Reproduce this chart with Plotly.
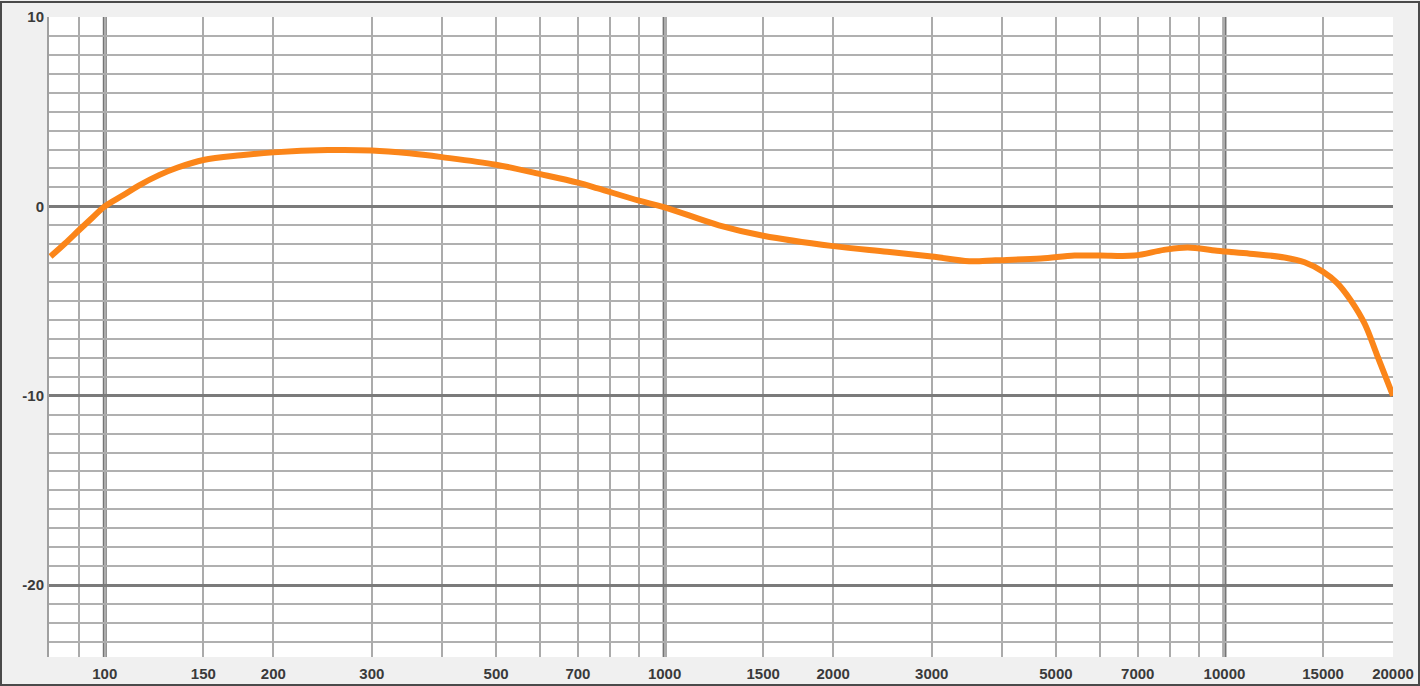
import math
import plotly.graph_objects as go

# ---- data ----
freq_hz = [80, 85, 90, 95, 100, 108, 115, 125, 135, 150, 175, 200, 250, 300, 350,
           400, 500, 600, 700, 760, 900, 1000, 1250, 1500, 2000, 2500, 3000, 3500,
           3900, 4700, 5400, 6000, 6900, 7800, 8600, 9700, 11100, 12800, 13900,
           15000, 15900, 16800, 17800, 18700, 20000]
level_db = [-2.65, -1.95, -1.25, -0.6, 0.0, 0.6, 1.1, 1.65, 2.05, 2.45, 2.7, 2.85, 2.97, 2.95, 2.8,
            2.6, 2.2, 1.7, 1.25, 0.95, 0.3, -0.05, -1.0, -1.55, -2.1, -2.4, -2.65, -2.9,
            -2.85, -2.75, -2.6, -2.6, -2.6, -2.3, -2.17, -2.35, -2.5, -2.7, -2.95,
            -3.45, -4.05, -4.95, -6.2, -7.8, -10.0]

x_tick_vals = [100, 150, 200, 300, 500, 700, 1000, 1500, 2000, 3000, 5000, 7000, 10000, 15000, 20000]
x_tick_text = [str(v) for v in x_tick_vals]
x_minor_vals = [90, 400, 600, 800, 900, 4000, 6000, 8000, 9000]
x_decades = [100, 1000, 10000]
y_tick_vals = [-20, -10, 0, 10]
y_tick_text = ["-20", "-10", "0", "10"]

x_min, x_max = 79.5, 20000
y_min, y_max = -23.8, 10

W, H = 1420, 686
ml, mr, mt, mb = 49, 27, 17, 29

fig = go.Figure()
fig.add_trace(go.Scatter(
    x=freq_hz, y=level_db, mode="lines",
    line=dict(color="#fb8519", width=6, shape="spline", smoothing=1.0),
    hoverinfo="x+y", showlegend=False,
))

shapes = []
for d in x_decades:
    shapes.append(dict(type="line", xref="x", yref="y", x0=d, x1=d, y0=y_min, y1=y_max,
                       line=dict(color="#747474", width=4), layer="below"))
# outer window frame
px = lambda p: (p - ml) / (W - ml - mr)
py = lambda p: 1 - (p - mt) / (H - mt - mb)
shapes.append(dict(type="rect", xref="paper", yref="paper",
                   x0=px(1), x1=px(W - 1), y0=py(2), y1=py(H - 1),
                   line=dict(color="#4a4a4a", width=2), layer="above"))

tf = dict(family="Liberation Sans, Arial", size=15, color="#3a3a3a", weight="bold")

fig.update_layout(
    width=W, height=H,
    margin=dict(l=ml, r=mr, t=mt, b=mb, autoexpand=False),
    paper_bgcolor="#f0f0f0",
    plot_bgcolor="#ffffff",
    shapes=shapes,
    xaxis=dict(
        type="log", range=[math.log10(x_min), math.log10(x_max)],
        tickmode="array", tickvals=x_tick_vals, ticktext=x_tick_text,
        showgrid=True, gridcolor="#ababab", gridwidth=2,
        minor=dict(tickmode="array", tickvals=x_minor_vals, showgrid=True,
                   gridcolor="#ababab", gridwidth=2, ticks=""),
        ticks="", showline=False, zeroline=False, automargin=False,
        tickfont=tf, ticklabelstandoff=6,
    ),
    yaxis=dict(
        range=[y_min, y_max],
        tickmode="array", tickvals=y_tick_vals, ticktext=y_tick_text,
        showgrid=True, gridcolor="#7a7a7a", gridwidth=3,
        minor=dict(dtick=1, showgrid=True, gridcolor="#b0b0b0", gridwidth=2, ticks=""),
        ticks="", zeroline=False, automargin=False,
        showline=True, linecolor="#a0a0a0", linewidth=2,
        tickfont=tf, ticklabelstandoff=0,
    ),
)

fig.write_html("out.html", config={"displayModeBar": False},
               post_script="document.body.style.margin='0';document.body.style.overflow='hidden';")
